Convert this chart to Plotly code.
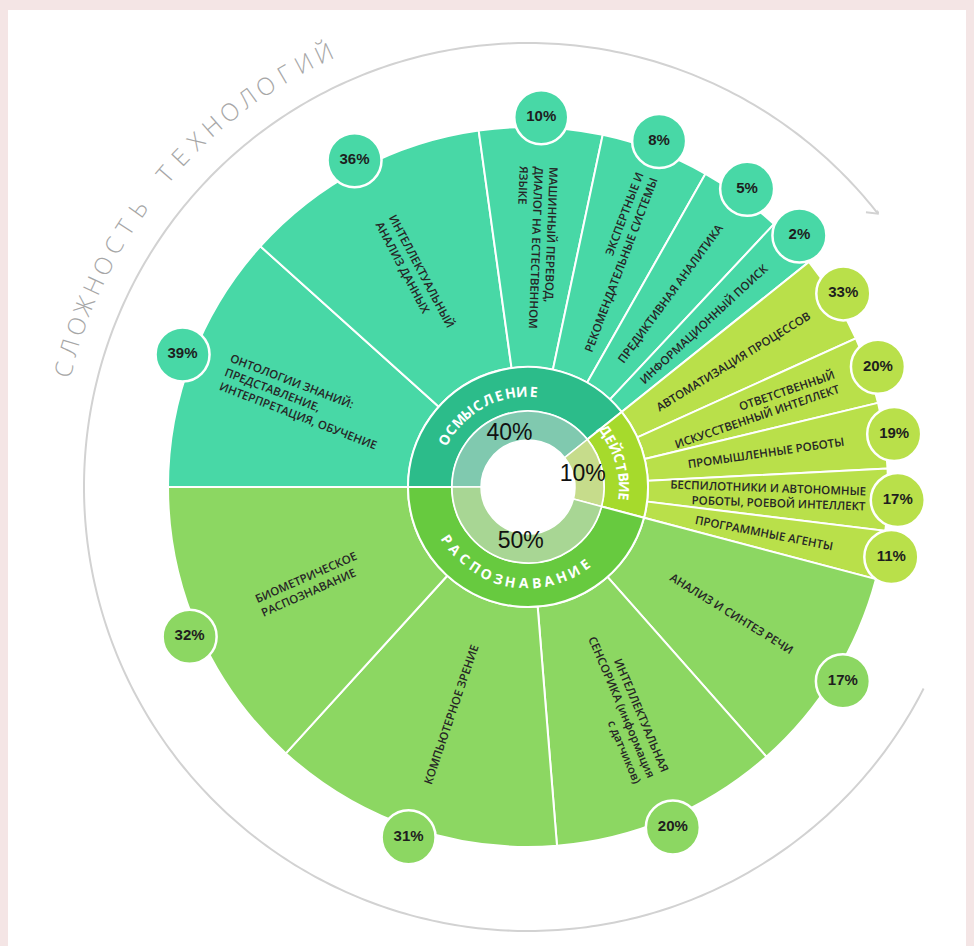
import math
import numpy as np
import plotly.graph_objects as go

# ---------------- data ----------------
group_names = ["ОСМЫСЛЕНИЕ", "ДЕЙСТВИЕ", "РАСПОЗНАВАНИЕ"]
group_share = [40, 10, 50]

osm_labels = ["ОНТОЛОГИИ ЗНАНИЙ:<br>ПРЕДСТАВЛЕНИЕ,<br>ИНТЕРПРЕТАЦИЯ, ОБУЧЕНИЕ",
              "ИНТЕЛЛЕКТУАЛЬНЫЙ<br>АНАЛИЗ ДАННЫХ",
              "МАШИННЫЙ ПЕРЕВОД,<br>ДИАЛОГ НА ЕСТЕСТВЕННОМ<br>ЯЗЫКЕ",
              "ЭКСПЕРТНЫЕ И<br>РЕКОМЕНДАТЕЛЬНЫЕ СИСТЕМЫ",
              "ПРЕДИКТИВНАЯ АНАЛИТИКА",
              "ИНФОРМАЦИОННЫЙ ПОИСК"]
osm_values = [39, 36, 10, 8, 5, 2]

dey_labels = ["АВТОМАТИЗАЦИЯ ПРОЦЕССОВ",
              "ОТВЕТСТВЕННЫЙ<br>ИСКУССТВЕННЫЙ ИНТЕЛЛЕКТ",
              "ПРОМЫШЛЕННЫЕ РОБОТЫ",
              "БЕСПИЛОТНИКИ И АВТОНОМНЫЕ<br>РОБОТЫ, РОЕВОЙ ИНТЕЛЛЕКТ",
              "ПРОГРАММНЫЕ АГЕНТЫ"]
dey_values = [33, 20, 19, 17, 11]

ras_labels = ["АНАЛИЗ И СИНТЕЗ РЕЧИ",
              "ИНТЕЛЛЕКТУАЛЬНАЯ<br>СЕНСОРИКА (информация<br>с датчиков)",
              "КОМПЬЮТЕРНОЕ ЗРЕНИЕ",
              "БИОМЕТРИЧЕСКОЕ<br>РАСПОЗНАВАНИЕ"]
ras_values = [17, 20, 31, 32]

axis_title = "СЛОЖНОСТЬ ТЕХНОЛОГИЙ"

# ---------------- style / geometry ----------------
W, H = 974, 946
CX, CY = 528, 487          # chart centre (px from left / top)
RPX = 446                  # radial axis range == pixel radius of the polar area
R_HOLE, R_PCT, R_GRP, R_LEAF = 47, 76, 120, 360
R_BUBBLE, R_LABEL, R_PCT_TXT, R_GRP_TXT = 370, 240, 56, 96
R_ARC, R_TITLE = 444, 480
START = 180                # first group starts at 9 o'clock, runs clockwise
GROUP_EXP, LEAF_EXP = 0.7, 0.55   # angular compression so that small items stay legible
ARC_FROM, ARC_TO = -27.0, 38.0
TITLE_MID, TITLE_ADV = 140.5, 22.3
GRP_ADV = [12.0, 10.0, 13.0]
GRP_TXT_SHIFT = [9.0, 3.0, -3.0]

leaf_colors = ["#48D8A6", "#B9E04A", "#8CD762"]
grp_colors = ["#2CBC8A", "#A6DA2C", "#67CA3F"]
pct_colors = ["#80C9AF", "#C6DC8B", "#A8D694"]
LABEL_FONT = "Open Sans, DejaVu Sans, sans-serif"

# ---------------- angular layout from data ----------------
leaf_sets = [(osm_labels, osm_values), (dey_labels, dey_values), (ras_labels, ras_values)]
gw = [s ** GROUP_EXP for s in group_share]
gspan = [360.0 * w / sum(gw) for w in gw]

g_theta, g_width = [], []
L_theta, L_width, L_color, L_text, L_val = [], [], [], [], []
a = START
for gi, (labels, vals) in enumerate(leaf_sets):
    g_theta.append(a - gspan[gi] / 2)
    g_width.append(gspan[gi])
    lw = [v ** LEAF_EXP for v in vals]
    b = a
    for lab, v, w in zip(labels, vals, lw):
        sp = gspan[gi] * w / sum(lw)
        L_theta.append(b - sp / 2)
        L_width.append(sp)
        L_color.append(leaf_colors[gi])
        L_text.append(lab)
        L_val.append(v)
        b -= sp
    a -= gspan[gi]


def to_paper(r, th):
    t = math.radians(th)
    return (CX + r * math.cos(t)) / W, (H - CY + r * math.sin(t)) / H


fig = go.Figure()

# outer leaves
fig.add_trace(go.Barpolar(
    r=[R_LEAF - R_GRP] * len(L_theta), base=[R_GRP] * len(L_theta),
    theta=L_theta, width=L_width,
    marker=dict(color=L_color, line=dict(color="white", width=2)),
    hoverinfo="skip", showlegend=False))
# group ring
fig.add_trace(go.Barpolar(
    r=[R_GRP - R_PCT] * 3, base=[R_PCT] * 3, theta=g_theta, width=g_width,
    marker=dict(color=grp_colors, line=dict(color="white", width=2)),
    hoverinfo="skip", showlegend=False))
# share ring
fig.add_trace(go.Barpolar(
    r=[R_PCT - R_HOLE] * 3, base=[R_HOLE] * 3, theta=g_theta, width=g_width,
    marker=dict(color=pct_colors, line=dict(color="white", width=1.5)),
    hoverinfo="skip", showlegend=False))
# share text
fig.add_trace(go.Scatterpolar(
    r=[R_PCT_TXT] * 3, theta=g_theta, mode="text",
    text=[f"{s}%" for s in group_share], textposition="middle center",
    textfont=dict(family="Liberation Sans, Arial", size=23, color="#111111"),
    hoverinfo="skip", showlegend=False))

# complexity arc + arrow head
arc_th = np.linspace(ARC_FROM, ARC_TO - 360, 400)
fig.add_trace(go.Scatterpolar(
    r=[R_ARC] * len(arc_th), theta=arc_th, mode="lines",
    line=dict(color="#D2D2D2", width=2), hoverinfo="skip", showlegend=False))
t = math.radians(ARC_TO)
tip = (R_ARC * math.cos(t), R_ARC * math.sin(t))
back = (-math.sin(t), math.cos(t))
arm_pts = []
for sgn in (1, -1):
    c, s = math.cos(sgn * math.pi / 4), math.sin(sgn * math.pi / 4)
    d = (back[0] * c - back[1] * s, back[0] * s + back[1] * c)
    arm_pts.append((tip[0] + 12 * d[0], tip[1] + 12 * d[1]))
pts = [arm_pts[0], tip, arm_pts[1]]
fig.add_trace(go.Scatterpolar(
    r=[math.hypot(x, y) for x, y in pts],
    theta=[math.degrees(math.atan2(y, x)) for x, y in pts],
    mode="lines", line=dict(color="#D2D2D2", width=2),
    hoverinfo="skip", showlegend=False))

# value bubbles
fig.add_trace(go.Scatterpolar(
    r=[R_BUBBLE] * len(L_theta), theta=L_theta, mode="markers+text",
    text=[f"{v}%" for v in L_val], textposition="middle center",
    textfont=dict(family="Liberation Sans, Arial", size=15, color="#1E1E1E", weight="bold"),
    marker=dict(size=54, color=L_color, line=dict(color="white", width=2.5)),
    hoverinfo="skip", showlegend=False))

annotations = []
# leaf labels (rotated along the radius)
for th, txt in zip(L_theta, L_text):
    tn = th % 360
    if 80 < tn < 260:
        ang, al = 180 - tn, "left"
    else:
        ang, al = (-tn if tn <= 90 else 360 - tn), "right"
    x, y = to_paper(R_LABEL, th)
    annotations.append(dict(
        x=x, y=y, xref="paper", yref="paper", text=txt, textangle=ang,
        showarrow=False, align=al, xanchor="center", yanchor="middle",
        font=dict(family=LABEL_FONT, size=11.5, color="#262626", weight=600)))

# group names curved along the group ring
for gi, name in enumerate(group_names):
    mid = g_theta[gi] + GRP_TXT_SHIFT[gi]
    n = len(name)
    top = math.sin(math.radians(mid)) >= 0
    for i, ch in enumerate(name):
        off = math.degrees((i - (n - 1) / 2) * GRP_ADV[gi] / R_GRP_TXT)
        if top:
            th = mid - off
            ang = 90 - th
        else:
            th = mid + off
            ang = -(th + 90)
        x, y = to_paper(R_GRP_TXT, th)
        annotations.append(dict(
            x=x, y=y, xref="paper", yref="paper", text=ch, textangle=ang,
            showarrow=False, xanchor="center", yanchor="middle",
            font=dict(family=LABEL_FONT, size=14, color="white", weight="bold")))

# curved title along the arc
n = len(axis_title)
for i, ch in enumerate(axis_title):
    if ch == " ":
        continue
    th = TITLE_MID - math.degrees((i - (n - 1) / 2) * TITLE_ADV / R_TITLE)
    x, y = to_paper(R_TITLE, th)
    annotations.append(dict(
        x=x, y=y, xref="paper", yref="paper", text=ch, textangle=90 - th,
        showarrow=False, xanchor="center", yanchor="middle",
        font=dict(family="Open Sans, DejaVu Sans, sans-serif", size=24,
                  color="#A6A6A6", weight=300)))

fig.update_layout(
    width=W, height=H, margin=dict(l=0, r=0, t=0, b=0),
    paper_bgcolor="#F4E5E5", plot_bgcolor="white",
    shapes=[dict(type="rect", xref="paper", yref="paper",
                 x0=8 / W, x1=966 / W, y0=0, y1=(H - 10) / H,
                 fillcolor="white", line=dict(width=0), layer="below")],
    polar=dict(
        domain=dict(x=[(CX - RPX) / W, (CX + RPX) / W],
                    y=[(H - CY - RPX) / H, (H - CY + RPX) / H]),
        bgcolor="rgba(0,0,0,0)", barmode="overlay",
        radialaxis=dict(range=[0, RPX], visible=False, showgrid=False),
        angularaxis=dict(visible=False, direction="counterclockwise",
                         rotation=0, showgrid=False)),
    annotations=annotations,
    showlegend=False,
)

fig.write_html("out.html", config={"displayModeBar": False},
               post_script="document.body.style.margin='0';document.body.style.overflow='hidden';")
